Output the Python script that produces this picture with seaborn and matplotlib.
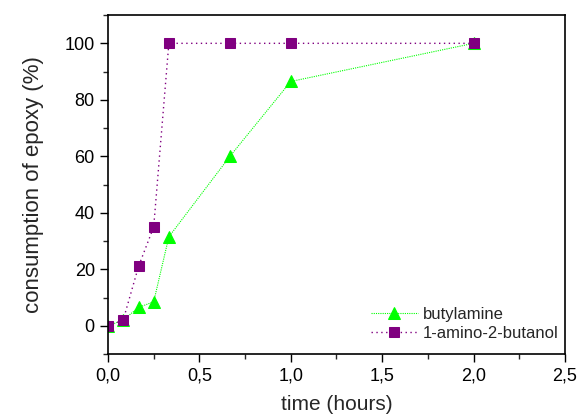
import matplotlib
matplotlib.use("Agg")
import matplotlib.pyplot as plt
import pandas as pd
import seaborn as sns
from matplotlib.ticker import FuncFormatter, MultipleLocator

# reaction time in hours
time_h = [0, 0.083, 0.167, 0.25, 0.333, 0.667, 1.0, 2.0]
butylamine = [0, 2.0, 6.5, 8.5, 31.5, 60, 86.5, 100]
amino_butanol = [0, 2.0, 21, 35, 100, 100, 100, 100]

series_names = ["butylamine", "1-amino-2-butanol"]
colors = ["#00ff00", "#800080"]
markers = ["^", "s"]

df = pd.DataFrame({
    "time": time_h * 2,
    "consumption": butylamine + amino_butanol,
    "amine": [series_names[0]] * len(time_h) + [series_names[1]] * len(time_h),
})

sns.set_style("ticks")
plt.rcParams["font.family"] = ["Liberation Sans", "DejaVu Sans"]

fig = plt.figure(figsize=(5.79, 4.19), dpi=100)
ax = fig.add_axes([0.1865, 0.155, 0.7893, 0.809])

for name, col, mk in zip(series_names, colors, markers):
    sub = df[df["amine"] == name]
    sns.lineplot(data=sub, x="time", y="consumption", ax=ax, color=col,
                 linestyle=(0, (1, 2.5)) if name == series_names[1] else (0, (1, 1)),
                 linewidth=1.0 if name == series_names[1] else 0.8,
                 marker=mk, markersize=8 if mk == "^" else 6.5,
                 markeredgecolor=col, markerfacecolor=col, label=name)

ax.set_xlim(0, 2.5)
ax.set_ylim(-10, 110)
ax.xaxis.set_major_locator(MultipleLocator(0.5))
ax.xaxis.set_minor_locator(MultipleLocator(0.25))
ax.yaxis.set_major_locator(MultipleLocator(20))
ax.yaxis.set_minor_locator(MultipleLocator(10))
ax.xaxis.set_major_formatter(FuncFormatter(lambda v, p: f"{v:.1f}".replace(".", ",")))
ax.tick_params(axis="both", which="major", direction="out", length=6, width=1,
               labelsize=13, colors="black")
ax.tick_params(axis="both", which="minor", direction="out", length=3.5, width=1)
ax.set_yticks([0, 20, 40, 60, 80, 100])
for s in ax.spines.values():
    s.set_linewidth(1.2)
    s.set_color("black")

ax.set_xlabel("time (hours)", fontsize=15, labelpad=8)
ax.set_ylabel("consumption of epoxy (%)", fontsize=16, labelpad=15)

ax.legend(loc="lower right", frameon=False, fontsize=12, handlelength=2.8,
          handletextpad=0.3, labelspacing=0.2, borderaxespad=0.0,
          bbox_to_anchor=(1.0, 0.02))

fig.savefig("out.png", dpi=100)
